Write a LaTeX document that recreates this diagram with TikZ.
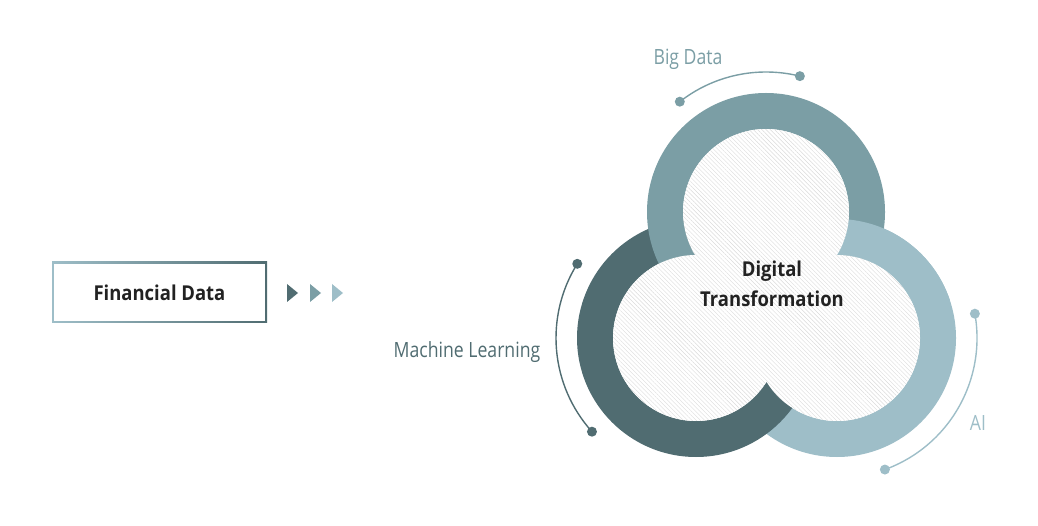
\documentclass[tikz,border=0pt]{standalone}
\usepackage{fontspec}
\setmainfont{Open Sans}
\newfontfamily\tagfont[FakeStretch=0.84]{Open Sans}
\newfontfamily\headfont[FakeStretch=0.9]{Open Sans}
\usetikzlibrary{patterns.meta}
\definecolor{ringtop}{HTML}{7B9EA5}
\definecolor{ringleft}{HTML}{506C71}
\definecolor{ringright}{HTML}{9EBEC8}
\definecolor{inktext}{HTML}{222222}
\tikzset{
  tag/.style={font=\tagfont\fontsize{21}{21}\selectfont,anchor=base},
  head/.style={font=\headfont\bfseries\fontsize{20.5}{30}\selectfont,text=inktext,align=center},
  dot/.style={circle,inner sep=0pt,minimum size=10pt},
  finbox/.style={minimum width=215,minimum height=61,inner sep=0pt,
    left color=ringright,right color=ringleft,
    path picture={\fill[white] ([shift={(2pt,2pt)}]path picture bounding box.south west)
      rectangle ([shift={(-2pt,-2pt)}]path picture bounding box.north east);}}
}

\begin{document}
\begin{tikzpicture}[x=1pt,y=-1pt,line width=1.4pt]
  \useasboundingbox (0,0) rectangle (1038,526);
  \coordinate (T) at (766,212);
  \coordinate (L) at (696,338);
  \coordinate (R) at (837,338);
  % rings
  \foreach \c/\col in {R/ringright,L/ringleft,T/ringtop}
    \fill[\col,even odd rule] (\c) circle (119) (\c) circle (83);
  \begin{scope}
    \clip (766,0) rectangle (1038,300);
    \fill[ringright,even odd rule] (R) circle (119) (R) circle (83);
  \end{scope}
  \fill[white] (T) circle (83) (L) circle (83) (R) circle (83);
  \fill[pattern={Lines[angle=-45,distance=3pt,line width=0.4pt]},pattern color=black!14]
    (T) circle (83) (L) circle (83) (R) circle (83);
  \node[head] (dt) at (772,284) {Digital\\Transformation};
  % outer arcs
  \node[dot,fill=ringtop] (bd1) at ([shift={(-128:140)}]T) {};
  \node[dot,fill=ringtop] (bd2) at ([shift={(-76:140)}]T) {};
  \draw[ringtop] (bd1.center) arc[start angle=-128,end angle=-76,radius=140];
  \node[dot,fill=ringleft] (ml1) at ([shift={(212:140)}]L) {};
  \node[dot,fill=ringleft] (ml2) at ([shift={(138:140)}]L) {};
  \draw[ringleft] (ml1.center) arc[start angle=212,end angle=138,radius=140];
  \node[dot,fill=ringright] (ai1) at ([shift={(-10:140)}]R) {};
  \node[dot,fill=ringright] (ai2) at ([shift={(70:140)}]R) {};
  \draw[ringright] (ai1.center) arc[start angle=-10,end angle=70,radius=140];
  \node[tag,text=ringtop] (bd) at (688,65) {Big Data};
  \node[tag,text=ringleft] (ml) at (467,357) {Machine Learning};
  \node[tag,text=ringright] (ai) at (978,430) {AI};
  % input box
  \node[finbox,font=\headfont\bfseries\fontsize{20.5}{20}\selectfont,text=inktext] (fin) at (159.5,292.5) {Financial Data};
  \foreach \x/\col in {287/ringleft,310/ringtop,332/ringright}
    \fill[\col] (\x,284) -- (\x+11,293) -- (\x,302) -- cycle;
\end{tikzpicture}
\end{document}
